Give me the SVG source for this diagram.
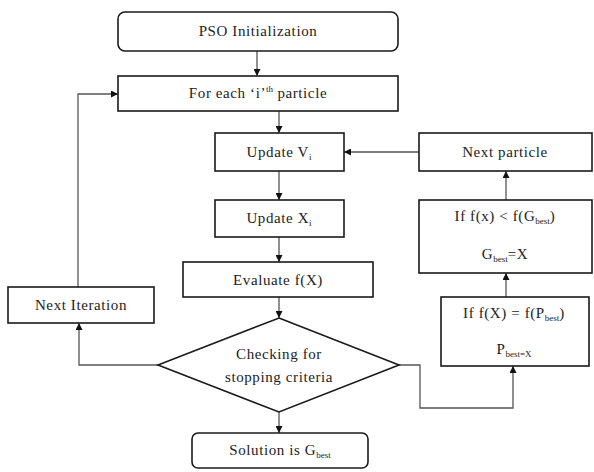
<svg xmlns="http://www.w3.org/2000/svg" width="594" height="472" viewBox="0 0 594 472">
<defs>
<style>
.box{fill:#fff;stroke:#1a1a1a;stroke-width:1.6}
.lbl{font-family:"Liberation Serif","Times New Roman",serif;font-size:15px;fill:#222;text-anchor:middle;letter-spacing:0.6px}
.sm{font-size:9px;letter-spacing:0}
.con{fill:none;stroke:#555;stroke-width:1.3}
</style>
<marker id="ah" viewBox="0 0 10 10" refX="10" refY="5" markerWidth="7" markerHeight="7" markerUnits="userSpaceOnUse" orient="auto">
<path d="M0 0 L10 5 L0 10 Z" fill="#111"/>
</marker>
</defs>
<rect width="594" height="472" fill="#fff"/>
<g id="connectors">
<path class="con" d="M257 51 V76" marker-end="url(#ah)"/>
<path class="con" d="M279 111 V133" marker-end="url(#ah)"/>
<path class="con" d="M279 171 V200" marker-end="url(#ah)"/>
<path class="con" d="M279 237 V262" marker-end="url(#ah)"/>
<path class="con" d="M279 297 V318" marker-end="url(#ah)"/>
<path class="con" d="M279 412 V433" marker-end="url(#ah)"/>
<path class="con" d="M158 365 H79 V323" marker-end="url(#ah)"/>
<path class="con" d="M78 287 V94 H118" marker-end="url(#ah)"/>
<path class="con" d="M399 365 H420 V408 H513 V366" marker-end="url(#ah)"/>
<path class="con" d="M506 297 V273" marker-end="url(#ah)"/>
<path class="con" d="M506 200 V171" marker-end="url(#ah)"/>
<path class="con" d="M419 152 H344" marker-end="url(#ah)"/>
</g>
<g id="pso-init">
<rect class="box" x="118" y="12" width="280" height="39" rx="7"/>
<text class="lbl" x="258" y="36">PSO Initialization</text>
</g>
<g id="for-each">
<rect class="box" x="118" y="76" width="280" height="35"/>
<text class="lbl" x="258" y="98">For each ‘i’<tspan class="sm" dy="-6">th</tspan><tspan dy="6"> particle</tspan></text>
</g>
<g id="update-v">
<rect class="box" x="215" y="133" width="129" height="38"/>
<text class="lbl" x="279" y="157">Update V<tspan class="sm" dy="3">i</tspan></text>
</g>
<g id="update-x">
<rect class="box" x="215" y="200" width="129" height="37"/>
<text class="lbl" x="279" y="223">Update X<tspan class="sm" dy="3">i</tspan></text>
</g>
<g id="evaluate">
<rect class="box" x="183" y="262" width="190" height="35"/>
<text class="lbl" x="278" y="285">Evaluate f(X)</text>
</g>
<g id="check">
<polygon class="box" points="279,318 399,365 279,412 158,365"/>
<text class="lbl" x="279" y="359">Checking for</text>
<text class="lbl" x="279" y="382">stopping criteria</text>
</g>
<g id="solution">
<rect class="box" x="192" y="433" width="176" height="35" rx="6"/>
<text class="lbl" x="280" y="455">Solution is G<tspan class="sm" dy="3">best</tspan></text>
</g>
<g id="next-iteration">
<rect class="box" x="8" y="287" width="146" height="36"/>
<text class="lbl" x="81" y="310">Next Iteration</text>
</g>
<g id="next-particle">
<rect class="box" x="419" y="133" width="173" height="38"/>
<text class="lbl" x="505" y="157">Next particle</text>
</g>
<g id="gbest">
<rect class="box" x="419" y="200" width="173" height="73"/>
<text class="lbl" x="505" y="221">If f(x) &lt; f(G<tspan class="sm" dy="3">best</tspan><tspan dy="-3">)</tspan></text>
<text class="lbl" x="505" y="259">G<tspan class="sm" dy="3">best</tspan><tspan dy="-3">=X</tspan></text>
</g>
<g id="pbest">
<rect class="box" x="441" y="297" width="148" height="69"/>
<text class="lbl" x="514" y="318">If f(X) = f(P<tspan class="sm" dy="3">best</tspan><tspan dy="-3">)</tspan></text>
<text class="lbl" x="514" y="354">P<tspan class="sm" dy="3">best=X</tspan></text>
</g>
</svg>
